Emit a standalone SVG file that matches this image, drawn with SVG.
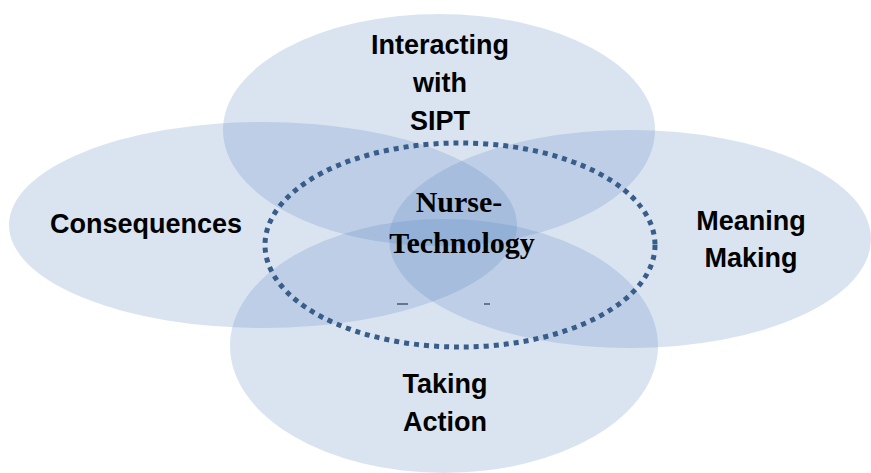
<svg xmlns="http://www.w3.org/2000/svg" width="871" height="473" viewBox="0 0 871 473">
  <style>
    .petal { fill: #4f81bd; fill-opacity: 0.21; stroke: none; }
    .core { fill: none; stroke: #385d8a; stroke-width: 5; stroke-dasharray: 5 5; }
    .label { font-family: "Liberation Sans", Arial, sans-serif; font-weight: bold; font-size: 27px; fill: #000; text-anchor: middle; }
    .center { font-family: "Liberation Serif", "Times New Roman", serif; font-weight: bold; font-size: 30px; fill: #000; text-anchor: middle; }
    .tick { stroke: #2a3f58; stroke-width: 1.2; }
  </style>
  <rect width="871" height="473" fill="#ffffff"/>

  <!-- overlapping theme ellipses -->
  <g id="interacting">
    <ellipse class="petal" cx="439" cy="130" rx="216" ry="116"/>
    <text class="label" x="440" y="54">Interacting</text>
    <text class="label" x="440" y="92">with</text>
    <text class="label" x="440" y="130">SIPT</text>
  </g>
  <g id="consequences">
    <ellipse class="petal" cx="263" cy="225" rx="254" ry="103"/>
    <text class="label" x="146" y="233">Consequences</text>
  </g>
  <g id="meaning-making">
    <ellipse class="petal" cx="630" cy="239" rx="241" ry="109"/>
    <text class="label" x="751" y="230">Meaning</text>
    <text class="label" x="751" y="267">Making</text>
  </g>
  <g id="taking-action">
    <ellipse class="petal" cx="444" cy="346" rx="214" ry="127"/>
    <text class="label" x="445" y="393">Taking</text>
    <text class="label" x="445" y="431">Action</text>
  </g>

  <!-- dotted core boundary -->
  <g id="nurse-technology">
    <ellipse class="core" cx="460" cy="245" rx="195" ry="102"/>
    <text class="center" x="459" y="212">Nurse-</text>
    <text class="center" x="462" y="253">Technology</text>
    <line class="tick" x1="397" y1="304" x2="408" y2="304"/>
    <line class="tick" x1="484" y1="304" x2="490" y2="304"/>
  </g>

  <g id="connectors"/>
</svg>
